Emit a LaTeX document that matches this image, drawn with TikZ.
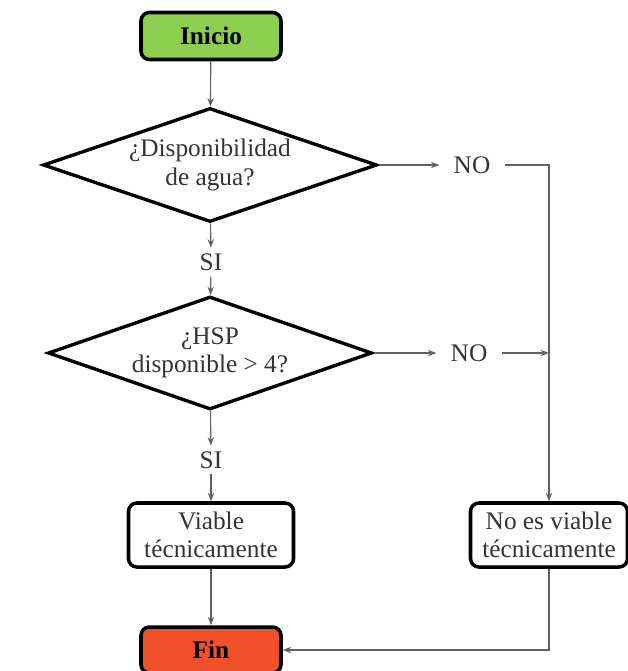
\documentclass[tikz,border=0pt]{standalone}
\usepackage{fontspec}
\setmainfont{Liberation Serif}
\usetikzlibrary{shapes.geometric,arrows.meta}

\definecolor{startgreen}{HTML}{8FCF4F}
\definecolor{endred}{HTML}{F0502A}
\definecolor{linegray}{HTML}{606060}
\definecolor{textgray}{HTML}{333333}

\def\pxu{0.025cm}
\newcommand{\flowfont}{\fontsize{18}{20}\selectfont}

\tikzset{
  box/.style={draw=black, line width=2.5pt, rounded corners=6pt, align=center,
    inner sep=2pt, text=textgray, font=\flowfont},
  decision/.style={diamond, draw=black, line width=2.4pt, shape aspect=2.9,
    inner sep=0pt, align=center, text=textgray, font=\flowfont},
  answer/.style={inner xsep=10pt, inner ysep=4pt, text=textgray, font=\flowfont},
  link/.style={draw=linegray, line width=0.8pt, -{Stealth[length=6pt,width=4.5pt]}},
}

\begin{document}
\begin{tikzpicture}[x=0.025cm, y=-0.025cm]
  % frame of the picture
  \useasboundingbox (0,0) rectangle (627,671);

  % Define the nodes
  \node[box, fill=startgreen, minimum width=140*\pxu, minimum height=47*\pxu,
    text=black, font=\flowfont\bfseries] (inicio) at (211,36) {Inicio};
  \node[decision, minimum width=334*\pxu, minimum height=114*\pxu]
    (agua) at (210,165) {¿Disponibilidad\\de agua?};
  \node[answer] (no1) at (472,165) {NO};
  \node[answer] (si1) at (211,262) {SI};
  \node[decision, minimum width=324*\pxu, minimum height=113*\pxu]
    (hsp) at (210,353) {¿HSP\\disponible > 4?};
  \node[answer] (no2) at (469,353) {NO};
  \node[answer] (si2) at (211,460) {SI};
  \node[box, minimum width=165*\pxu, minimum height=64*\pxu]
    (viable) at (211,535) {Viable\\técnicamente};
  \node[box, minimum width=157*\pxu, minimum height=64*\pxu]
    (noviable) at (549,535) {No es viable\\técnicamente};
  \node[box, fill=endred, minimum width=140*\pxu, minimum height=46*\pxu,
    text=black, font=\flowfont\bfseries] (fin) at (211,650) {Fin};

  % Draw the connectors
  \draw[link] (inicio) -- (agua);
  \draw[link] (agua) -- (no1);
  \draw[link] (agua) -- (si1);
  \draw[link] (si1) -- (hsp);
  \draw[link] (hsp) -- (no2);
  \draw[link] (hsp) -- (si2);
  \draw[link] (si2) -- (viable);
  \draw[link] (viable) -- (fin);
  \draw[link] (no1) -| (noviable);
  \draw[link] (no2) -- (no2 -| noviable);
  \draw[link] (noviable) |- (fin);
\end{tikzpicture}
\end{document}
